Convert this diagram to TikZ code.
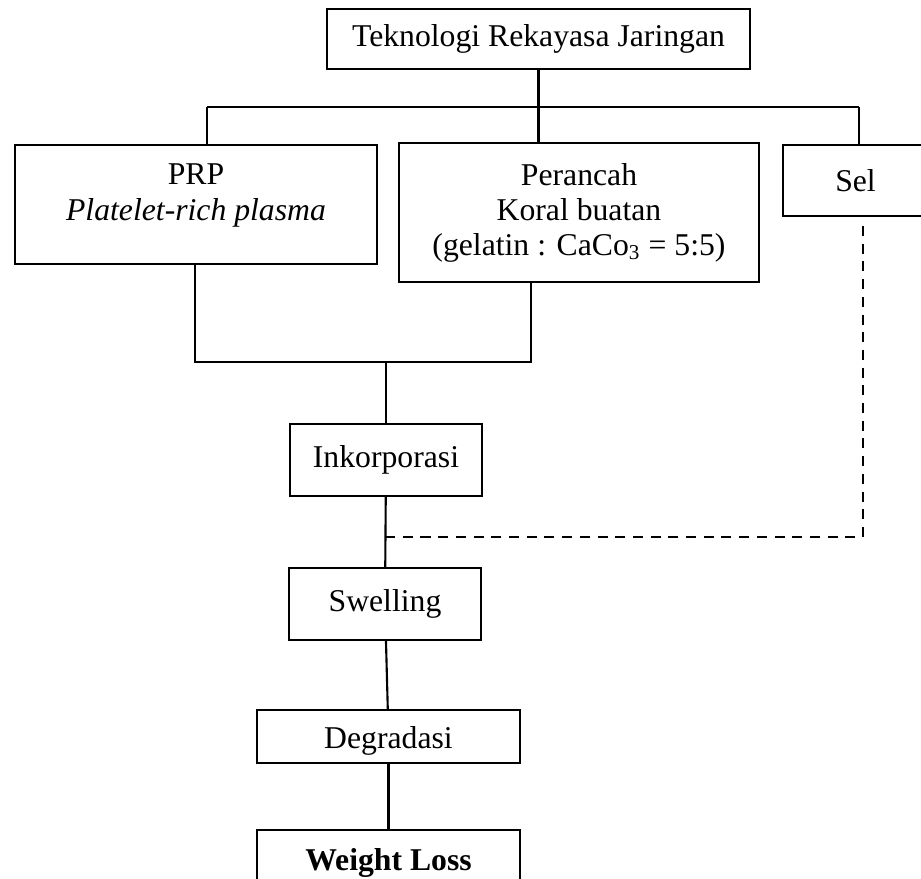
\documentclass[tikz,border=0pt]{standalone}
\usepackage{fontspec}
\setmainfont{Liberation Serif}
\usepackage{xcolor}
\definecolor{lineblack}{RGB}{0,0,0}
\newcommand\pxu{0.3785pt}

\begin{document}
\begin{tikzpicture}[x=\pxu,y=-\pxu,font=\fontsize{12}{13.25}\selectfont,
  box/.style={draw=lineblack,line width=0.8pt,inner sep=0pt,align=center},
  link/.style={draw=lineblack,line width=0.8pt},
  dashlink/.style={draw=lineblack,line width=0.8pt,dash pattern=on 3.8pt off 2.9pt}]
\useasboundingbox (0,0) rectangle (921,879);
\node[box,minimum width=423*\pxu,minimum height=60*\pxu] (tek) at (538.5,39) {Teknologi Rekayasa Jaringan};
\node[box,minimum width=362*\pxu,minimum height=119*\pxu] (prp) at (196,204.5) {};
\node[align=center,inner sep=0pt] (prptext) at (196,195.5) {PRP\\\textit{Platelet-rich plasma}};
\node[box,minimum width=360*\pxu,minimum height=139*\pxu] (per) at (579,212.5) {Perancah\\Koral buatan\\(gelatin : CaCo\textsubscript{3} = 5:5)};
\node[box,minimum width=145*\pxu,minimum height=71*\pxu] (sel) at (855.5,180.5) {Sel};
\node[box,minimum width=192*\pxu,minimum height=72*\pxu] (ink) at (386,460) {Inkorporasi};
\node[box,minimum width=192*\pxu,minimum height=72*\pxu] (swe) at (385,604) {Swelling};
\node[box,minimum width=263*\pxu,minimum height=53*\pxu] (deg) at (388.5,736.5) {};
\node[inner sep=0pt] (degtext) at (388.5,741) {Degradasi};
\node[box,minimum width=263*\pxu,minimum height=66*\pxu] (wl) at (388.5,863) {\textbf{Weight Loss}};
\coordinate (busl) at (207,107);
\coordinate (busr) at (859,107);
\coordinate (joinl) at (195,362);
\coordinate (joinr) at (531,362);
\coordinate (dasht) at (863,226);
\coordinate (dashc) at (863,537);
\draw[link] (tek.south) -- (tek.south |- per.north);
\draw[link] (busl) -- (busr);
\draw[link] (busl) -- (busl |- prp.north);
\draw[link] (busr) -- (busr |- sel.north);
\draw[link] (joinl |- prp.south) -- (joinl) -- (joinr) -- (joinr |- per.south);
\draw[link] (ink.north |- joinl) -- (ink.north);
\draw[link] (ink) -- (swe);
\draw[link] (swe) -- (deg);
\draw[link] (deg) -- (wl);
\draw[dashlink] (dasht) -- (dashc) -- (dashc -| ink.south);
\end{tikzpicture}
\end{document}
